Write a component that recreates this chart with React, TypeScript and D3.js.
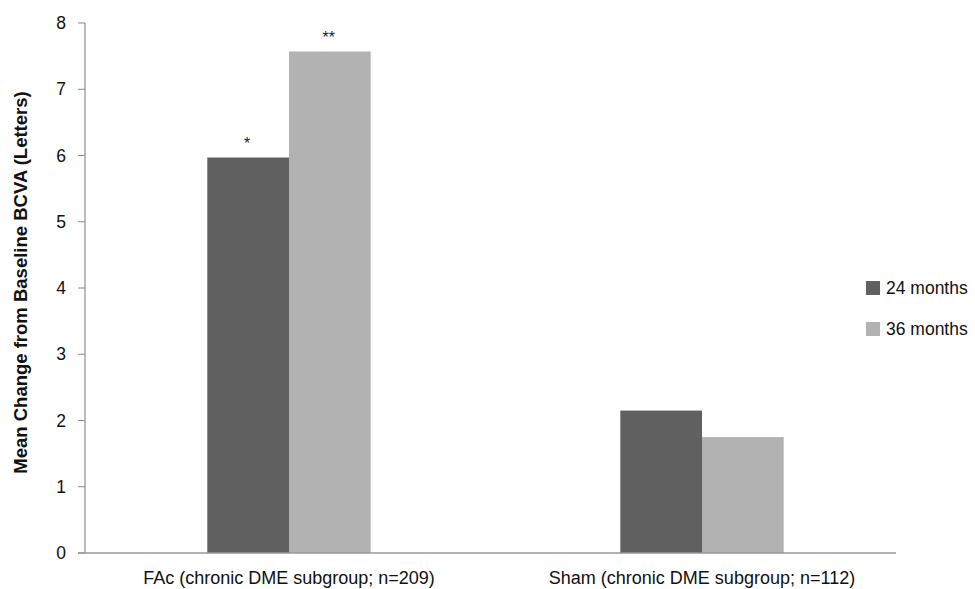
import React from "react";
import * as d3 from "d3";

const categories = ["FAc (chronic DME subgroup; n=209)", "Sham (chronic DME subgroup; n=112)"];
const seriesNames = ["24 months", "36 months"];
const values24 = [5.97, 2.15];
const values36 = [7.57, 1.75];
const annotations24 = ["*", ""];
const annotations36 = ["**", ""];
const yTicks = [0, 1, 2, 3, 4, 5, 6, 7, 8];
const colors = ["#606060", "#b2b2b2"];

const W = 975;
const H = 589;
const axisLeft = 85;
const axisRight = 896;
const plotTop = 23;
const plotBottom = 553;

export default function App() {
  const x0 = d3.scaleBand<string>().domain(categories).range([82.5, 908.5]).padding(0);
  const x1 = d3
    .scaleBand<string>()
    .domain(seriesNames)
    .range([0, x0.bandwidth()])
    .paddingInner(0)
    .paddingOuter(1.528);
  const y = d3.scaleLinear().domain([0, 8]).range([plotBottom, plotTop]);
  const series = [values24, values36];
  const annots = [annotations24, annotations36];
  const font = "'Liberation Sans', Arial, sans-serif";

  return (
    <svg width={W} height={H} style={{ position: "absolute", left: 0, top: 0, display: "block" }} fontFamily={font}>
      <rect width={W} height={H} fill="#fff" />
      {categories.map((c, ci) =>
        seriesNames.map((s, si) => {
          const v = series[si][ci];
          const bx = (x0(c) as number) + (x1(s) as number);
          return (
            <g key={c + s}>
              <rect x={bx} y={y(v)} width={x1.bandwidth()} height={y(0) - y(v)} fill={colors[si]} />
              {annots[si][ci] && (
                <text x={bx + x1.bandwidth() / 2 - 1} y={y(v) - 8} textAnchor="middle" fontSize={16} fill="#222">
                  {annots[si][ci]}
                </text>
              )}
            </g>
          );
        })
      )}
      {/* y axis */}
      <line x1={axisLeft} x2={axisLeft} y1={y(8)} y2={y(0)} stroke="#777" strokeWidth={1} />
      {yTicks.map((t) => (
        <g key={t}>
          <line x1={axisLeft - 7} x2={axisLeft} y1={y(t)} y2={y(t)} stroke="#888" strokeWidth={1} />
          <text x={axisLeft - 19} y={y(t)} dy="0.35em" textAnchor="end" fontSize={17.5} fill="#111">
            {t}
          </text>
        </g>
      ))}
      {/* x axis */}
      <line x1={axisLeft - 7} x2={axisRight} y1={y(0)} y2={y(0)} stroke="#999" strokeWidth={1.3} />
      {categories.map((c) => (
        <text key={c} x={(x0(c) as number) + x0.bandwidth() / 2} y={584} textAnchor="middle" fontSize={18} fill="#111">
          {c}
        </text>
      ))}
      <text
        transform={`translate(27, 282.5) rotate(-90)`}
        textAnchor="middle"
        fontSize={18.5}
        fontWeight="bold"
        fill="#111"
      >
        Mean Change from Baseline BCVA (Letters)
      </text>
      {/* legend */}
      {seriesNames.map((s, i) => (
        <g key={s} transform={`translate(866, ${281 + i * 41})`}>
          <rect width={14} height={14} fill={colors[i]} />
          <text x={20} y={7} dy="0.35em" fontSize={17.5} fill="#111">
            {s}
          </text>
        </g>
      ))}
    </svg>
  );
}
